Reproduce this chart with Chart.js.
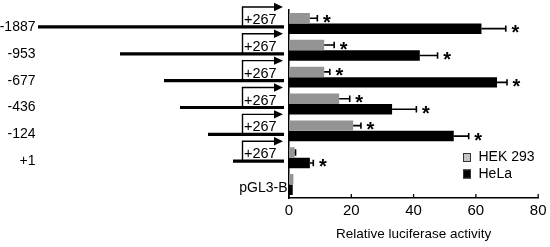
<!DOCTYPE html>
<html>
<head>
<meta charset="utf-8">
<script src="https://cdn.jsdelivr.net/npm/chart.js@4"></script>
<style>
  html, body { margin: 0; padding: 0; background: #fff; }
  canvas { display: block; }
</style>
</head>
<body>
<canvas id="c" width="550" height="247"></canvas>
<script>
// ---- data ----
const categories = ['-1887', '-953', '-677', '-436', '-124', '+1', 'pGL3-B'];
const hek293     = [6.7, 11.3, 11.3, 16.1, 20.6, 1.8, 1.4];
const hek293Err  = [2.4, 3.2, 1.8, 3.4, 2.5, 0.3, 0];
const hek293Sig  = [true, true, true, true, true, false, false];
const hela       = [61.8, 42.0, 66.8, 33.1, 52.9, 6.7, 1.2];
const helaErr    = [7.8, 5.7, 3.2, 7.8, 4.8, 1.1, 0];
const helaSig    = [true, true, true, true, true, true, false];
const xTicks     = [0, 20, 40, 60, 80];
const seriesNames = ['HEK 293', 'HeLa'];
const tssLabel   = '+267';
const axisTitle  = 'Relative luciferase activity';

const FONT = "'Liberation Sans', Arial, Helvetica, sans-serif";
const errors = [hek293Err, helaErr];
const sigs = [hek293Sig, helaSig];
const legendFill = ['#c4c4c4', '#000000'];

// schematic construct drawing (annotation geometry, px from line end)
const schematicLen = [246, 164, 120, 104, 76, 51, null];

const overlay = {
  id: 'overlay',
  afterDatasetsDraw(chart) {
    const ctx = chart.ctx;
    const xs = chart.scales.x;
    ctx.save();
    chart.data.datasets.forEach((ds, di) => {
      const meta = chart.getDatasetMeta(di);
      meta.data.forEach((bar, i) => {
        const v = ds.data[i];
        const e = errors[di][i];
        const yc = bar.y;
        let end = bar.x;
        if (e > 0) {
          end = xs.getPixelForValue(v + e);
          ctx.strokeStyle = '#000';
          ctx.lineWidth = 1.6;
          ctx.beginPath();
          ctx.moveTo(bar.x, yc);
          ctx.lineTo(end, yc);
          ctx.moveTo(end, yc - 3.2);
          ctx.lineTo(end, yc + 3.2);
          ctx.stroke();
        }
        if (sigs[di][i]) {
          ctx.fillStyle = '#000';
          ctx.font = 'bold 20px ' + FONT;
          ctx.textAlign = 'center';
          ctx.textBaseline = 'alphabetic';
          ctx.fillText('*', end + 9.5, yc + 10.5);
        }
      });
    });
    ctx.restore();
  },
  afterDraw(chart) {
    const ctx = chart.ctx;
    const xs = chart.scales.x, ys = chart.scales.y;
    const ca = chart.chartArea;
    ctx.save();
    // inward x ticks
    ctx.strokeStyle = '#000';
    ctx.lineWidth = 1.3;
    xTicks.forEach(t => {
      const px = xs.getPixelForValue(t);
      ctx.beginPath();
      ctx.moveTo(px, ca.bottom);
      ctx.lineTo(px, ca.bottom - 4);
      ctx.stroke();
    });
    // category labels + construct schematics
    const lineEnd = ca.left - 5;
    categories.forEach((lab, i) => {
      const yc = ys.getPixelForValue(i) + 3.5;
      ctx.fillStyle = '#000';
      ctx.font = '14px ' + FONT;
      ctx.textBaseline = 'middle';
      ctx.textAlign = 'right';
      const len = schematicLen[i];
      if (len == null) {
        ctx.fillText(lab, ca.left - 1.5, yc);
        return;
      }
      ctx.fillText(lab, 35.5, yc);
      ctx.strokeStyle = '#000';
      ctx.lineWidth = 3.2;
      ctx.beginPath();
      ctx.moveTo(lineEnd - len, yc);
      ctx.lineTo(lineEnd, yc);
      ctx.stroke();
      const bx = lineEnd - 41.5;
      const ty = yc - 20;
      ctx.lineWidth = 1.4;
      ctx.beginPath();
      ctx.moveTo(bx, yc);
      ctx.lineTo(bx, ty);
      ctx.lineTo(lineEnd - 8, ty);
      ctx.stroke();
      ctx.beginPath();
      ctx.moveTo(lineEnd - 1, ty);
      ctx.lineTo(lineEnd - 10, ty - 4.2);
      ctx.lineTo(lineEnd - 10, ty + 4.2);
      ctx.closePath();
      ctx.fill();
      ctx.font = '14.5px ' + FONT;
      ctx.textAlign = 'left';
      ctx.textBaseline = 'alphabetic';
      ctx.fillText(tssLabel, bx + 1.5, yc - 3);
    });
    // legend
    chart.data.datasets.forEach((ds, di) => {
      const ly = 157.5 + di * 16.5;
      ctx.fillStyle = legendFill[di];
      ctx.fillRect(463, ly - 4.5, 8, 9);
      ctx.strokeStyle = '#333';
      ctx.lineWidth = 1;
      ctx.strokeRect(463.5, ly - 4, 7, 8);
      ctx.fillStyle = '#000';
      ctx.font = '14px ' + FONT;
      ctx.textAlign = 'left';
      ctx.textBaseline = 'middle';
      ctx.fillText(ds.label, 478.5, ly);
    });
    ctx.restore();
  }
};

new Chart(document.getElementById('c'), {
  type: 'bar',
  data: {
    labels: categories,
    datasets: [
      { label: seriesNames[0], data: hek293, backgroundColor: '#949494', borderWidth: 0 },
      { label: seriesNames[1], data: hela, backgroundColor: '#000000', borderWidth: 0 }
    ]
  },
  options: {
    indexAxis: 'y',
    responsive: false,
    animation: false,
    devicePixelRatio: 1,
    categoryPercentage: 0.78,
    barPercentage: 1.0,
    layout: { padding: { left: 289, right: 11.3, top: 10, bottom: 0 } },
    plugins: { legend: { display: false }, tooltip: { enabled: false } },
    scales: {
      x: {
        type: 'linear',
        min: 0, max: 80,
        afterBuildTicks(s) { s.ticks = xTicks.map(v => ({ value: v })); },
        afterFit(s) { s.height = 49; },
        ticks: { color: '#000', font: { family: FONT, size: 15 }, padding: 3.5, maxRotation: 0 },
        grid: { display: false, drawTicks: false },
        border: { display: true, color: '#000', width: 1.5 },
        title: {
          display: true, text: axisTitle, color: '#000',
          font: { family: FONT, size: 13.5 }, padding: { top: 0, bottom: 4.2 }
        }
      },
      y: {
        type: 'category',
        afterFit(s) { s.width = 0; },
        ticks: { display: false },
        grid: { display: false, drawTicks: false },
        border: { display: true, color: '#000', width: 1.5 }
      }
    }
  },
  plugins: [overlay]
});
</script>
</body>
</html>
